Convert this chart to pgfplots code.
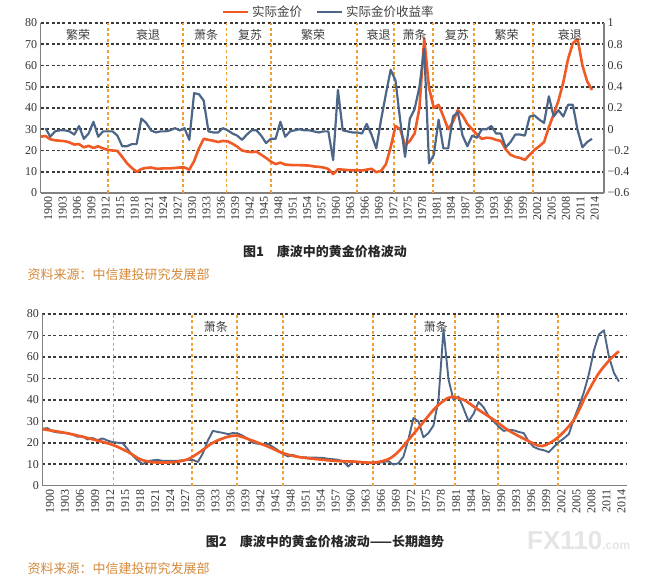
\documentclass[border=0pt]{standalone}
\usepackage{fontspec}
\setmainfont{Liberation Serif}
\newfontfamily\cjk{Noto Sans CJK SC}
\newfontfamily\wm{Liberation Sans}
\usepackage{pgfplots}
\usepackage{pgfplotstable}
\pgfplotsset{compat=1.18}
\definecolor{gold}{HTML}{F05A24}
\definecolor{ret}{HTML}{4D6688}
\definecolor{vline}{HTML}{F2A035}
\definecolor{gridc}{HTML}{3A3A3A}
\definecolor{axc}{HTML}{808080}
\definecolor{src}{HTML}{D4893A}

\pgfplotstableread{
year price
1900 26.5
1901 26.8
1902 25.3
1903 24.8
1904 24.6
1905 24.4
1906 23.8
1907 22.8
1908 23.0
1909 21.5
1910 22.2
1911 21.2
1912 22.0
1913 21.0
1914 20.3
1915 20.0
1916 19.8
1917 17.0
1918 14.0
1919 11.8
1920 10.0
1921 11.3
1922 11.8
1923 12.0
1924 11.5
1925 11.5
1926 11.6
1927 11.6
1928 11.8
1929 12.0
1930 12.0
1931 11.0
1932 15.0
1933 21.0
1934 25.5
1935 25.0
1936 24.6
1937 24.0
1938 24.5
1939 24.3
1940 23.2
1941 21.8
1942 20.0
1943 19.5
1944 19.2
1945 19.5
1946 18.0
1947 16.5
1948 14.8
1949 13.6
1950 14.3
1951 13.4
1952 13.2
1953 13.1
1954 13.1
1955 13.0
1956 12.9
1957 12.5
1958 12.3
1959 12.0
1960 11.3
1961 8.9
1962 11.2
1963 11.0
1964 10.8
1965 10.7
1966 10.7
1967 10.6
1968 11.0
1969 11.4
1970 9.8
1971 10.4
1972 13.5
1973 21.5
1974 31.5
1975 30.0
1976 22.5
1977 24.5
1978 28.0
1979 40.0
1980 72.8
1981 49.5
1982 40.0
1983 41.5
1984 36.0
1985 30.0
1986 33.5
1987 39.0
1988 36.5
1989 32.5
1990 30.0
1991 27.5
1992 25.5
1993 26.0
1994 25.8
1995 25.0
1996 24.5
1997 20.5
1998 18.0
1999 17.0
2000 16.5
2001 15.6
2002 18.0
2003 20.3
2004 22.0
2005 24.0
2006 31.0
2007 37.0
2008 43.5
2009 52.0
2010 63.0
2011 70.5
2012 72.4
2013 60.0
2014 52.5
2015 48.5
}\goldtable

\pgfplotstableread{
year r
1901 0.01
1902 -0.07
1903 -0.02
1904 -0.01
1905 -0.01
1906 -0.02
1907 -0.05
1908 0.03
1909 -0.09
1910 -0.04
1911 0.07
1912 -0.07
1913 -0.02
1914 -0.02
1915 -0.02
1916 -0.06
1917 -0.16
1918 -0.16
1919 -0.14
1920 -0.14
1921 0.10
1922 0.06
1923 -0.01
1924 -0.03
1925 -0.02
1926 -0.02
1927 -0.01
1928 0.01
1929 -0.01
1930 0.01
1931 -0.10
1932 0.34
1933 0.33
1934 0.27
1935 -0.02
1936 -0.03
1937 -0.03
1938 0.01
1939 -0.01
1940 -0.04
1941 -0.06
1942 -0.10
1943 -0.05
1944 -0.01
1945 -0.01
1946 -0.06
1947 -0.13
1948 -0.09
1949 -0.09
1950 0.07
1951 -0.07
1952 -0.02
1953 -0.01
1954 0.00
1955 -0.01
1956 -0.01
1957 -0.02
1958 -0.03
1959 -0.02
1960 -0.02
1961 -0.29
1962 0.37
1963 -0.01
1964 -0.02
1965 -0.03
1966 -0.03
1967 -0.04
1968 0.05
1969 -0.05
1970 -0.18
1971 0.09
1972 0.33
1973 0.56
1974 0.46
1975 0.08
1976 -0.26
1977 0.10
1978 0.19
1979 0.40
1980 0.76
1981 -0.32
1982 -0.24
1983 0.09
1984 -0.18
1985 -0.18
1986 0.12
1987 0.16
1988 -0.06
1989 -0.16
1990 -0.06
1991 -0.08
1992 0.00
1993 0.00
1994 0.03
1995 -0.04
1996 -0.04
1997 -0.17
1998 -0.12
1999 -0.05
2000 -0.05
2001 -0.06
2002 0.12
2003 0.13
2004 0.09
2005 0.06
2006 0.31
2007 0.12
2008 0.18
2009 0.12
2010 0.23
2011 0.23
2012 -0.01
2013 -0.17
2014 -0.12
2015 -0.09
}\rettable

\pgfplotstableread{
year trend
1900 26.3
1905 24.4
1910 21.6
1914 19.0
1917 15.8
1919.5 12.3
1922 10.9
1926 10.9
1929 12.3
1931.5 15.8
1934 20.0
1937 22.8
1939 23.2
1941.5 21.3
1945 18.2
1948 15.1
1951.5 13.2
1958 11.6
1962 11.2
1966 10.7
1969 12.3
1971 15.8
1973 21.3
1975 26.8
1978 35.3
1980 39.5
1981.5 41.3
1984 40.0
1986.5 36.1
1990 30.7
1993 25.7
1996.5 21.3
1999 18.6
2000.5 19.0
2003 22.8
2006 30.7
2008.5 42.3
2011 52.5
2013.5 59.5
2015 62.6
}\trendtable

\pgfplotsset{
  base/.style={
    scale only axis,
    axis line style={axc, line width=1.3pt},
    tick style={draw=none},
    ticklabel style={font=\fontsize{12}{12}\selectfont, text=black!80},
    /pgf/number format/assume math mode=true,
    /pgf/number format/1000 sep={},
  },
  hgrid/.style={
    ymajorgrids,
    grid style={draw=gridc, dash pattern=on 3pt off 2.4pt, line width=1.6pt},
    major grid style={draw=gridc, dash pattern=on 3pt off 2.4pt, line width=1.6pt},
  },
  vlines/.style={
    extra x ticks={#1},
    extra x tick labels={},
    extra x tick style={grid=major, major grid style={draw=vline, dash pattern=on 3pt off 2.6pt, line width=1.4pt}},
  },
  years/.style={
    xtick={1900,1903,...,2014},
    xticklabel style={rotate=90, anchor=north east},
  },
}

\begin{document}
\begin{tikzpicture}
\useasboundingbox (0pt,0pt) rectangle (664pt,-584pt);

% ---------- Figure 1 ----------
\begin{axis}[base, hgrid, years,
  vlines={1914.0,1929.7,1938.75,1948.0,1966.0,1973.7,1981.8,1990.4,2002.7},
  at={(40.7pt,-193pt)}, anchor=south west, width=563.3pt, height=170pt,
  xmin=1900, xmax=2017.5, ymin=0, ymax=80,
  axis x line*=bottom, axis y line*=left,
  ytick={0,10,20,30,40,50,60,70,80},
]
\addplot[gold, line width=2.6pt, line join=round] table[x=year, y=price] {\goldtable};
\begin{scope}[every node/.style={font=\cjk\fontsize{12}{12}\selectfont, text=black!75}]
\node at (axis cs:1907.8,74.4) {繁荣};
\node at (axis cs:1922.4,74.4) {衰退};
\node at (axis cs:1934.5,74.4) {萧条};
\node at (axis cs:1943.7,74.4) {复苏};
\node at (axis cs:1956.8,74.4) {繁荣};
\node at (axis cs:1970.5,74.4) {衰退};
\node at (axis cs:1978.0,74.4) {萧条};
\node at (axis cs:1986.8,74.4) {复苏};
\node at (axis cs:1997.2,74.4) {繁荣};
\node at (axis cs:2010.4,74.4) {衰退};
\end{scope}
\end{axis}

\begin{axis}[base,
  at={(40.7pt,-193pt)}, anchor=south west, width=563.3pt, height=170pt,
  xmin=1900, xmax=2017.5, ymin=-0.6, ymax=1,
  axis x line=none, axis y line*=right,
  ytick={-0.6,-0.4,-0.2,0,0.2,0.4,0.6,0.8,1},
  yticklabels={−0.6,−0.4,−0.2,0,0.2,0.4,0.6,0.8,1},
]
\addplot[ret, line width=2.2pt, line join=round] table[x=year, y=r] {\rettable};
\end{axis}

% legend
\draw[gold, line width=2.4pt] (223pt,-12pt) -- (248pt,-12pt);
\node[anchor=west, inner sep=0pt, font=\cjk\fontsize{12.5}{12.5}\selectfont, text=black!75] at (252pt,-12pt) {实际金价};
\draw[ret, line width=2.4pt] (317pt,-12pt) -- (342pt,-12pt);
\node[anchor=west, inner sep=0pt, font=\cjk\fontsize{12.5}{12.5}\selectfont, text=black!75] at (346pt,-12pt) {实际金价收益率};

% caption 1
\node[font=\cjk\bfseries\fontsize{13}{13}\selectfont, text=black!85] at (325pt,-251.7pt) {图1\quad 康波中的黄金价格波动};
\node[anchor=west, inner sep=0pt, font=\cjk\fontsize{13}{13}\selectfont, text=src] at (27.5pt,-275pt) {资料来源：中信建投研究发展部};

% ---------- Figure 2 ----------
\begin{axis}[base, hgrid, years,
  vlines={1914.2,1929.8,1938.8,1948.0,1965.9,1974.3,1982.3,1990.9,2002.8},
  at={(42.4pt,-485.6pt)}, anchor=south west, width=584.6pt, height=171.6pt,
  xmin=1900, xmax=2016.6, ymin=0, ymax=80,
  axis x line*=bottom, axis y line*=left,
  ytick={0,10,20,30,40,50,60,70,80},
]
\addplot[ret, line width=1.9pt, line join=round] table[x=year, y=price] {\goldtable};
\addplot[gold, line width=2.7pt, smooth, tension=0.5] table[x=year, y=trend] {\trendtable};
\node[font=\cjk\fontsize{12}{12}\selectfont, text=black!75] at (axis cs:1934.6,74.1) {萧条};
\node[font=\cjk\fontsize{12}{12}\selectfont, text=black!75] at (axis cs:1978.5,74.1) {萧条};
\end{axis}

% caption 2
\node[font=\cjk\bfseries\fontsize{13}{13}\selectfont, text=black!85] at (325pt,-541.7pt) {图2\quad 康波中的黄金价格波动——长期趋势};
\node[anchor=west, inner sep=0pt, font=\cjk\fontsize{13}{13}\selectfont, text=src] at (27.5pt,-568.3pt) {资料来源：中信建投研究发展部};
% watermark
\node[anchor=west, inner sep=0pt, text=black!10] at (527pt,-541pt) {\wm\bfseries\fontsize{26}{26}\selectfont FX110\fontsize{12}{12}\selectfont .com};
\end{tikzpicture}
\end{document}
